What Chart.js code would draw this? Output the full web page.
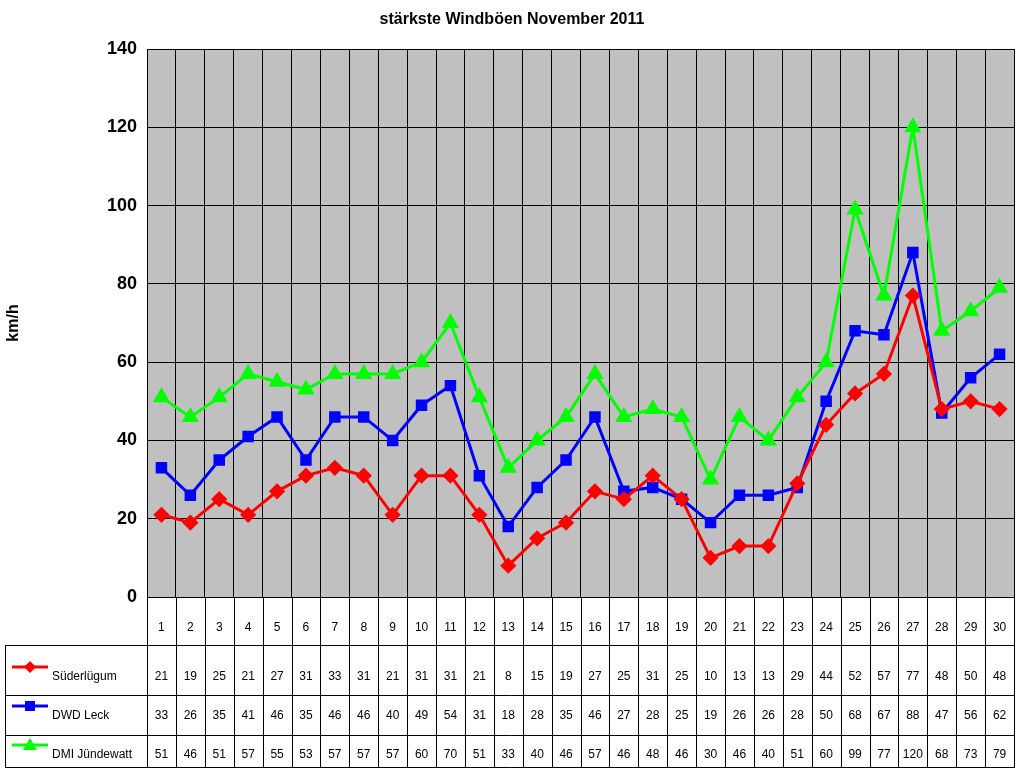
<!DOCTYPE html>
<html><head><meta charset="utf-8">
<script src="https://cdn.jsdelivr.net/npm/chart.js@4/dist/chart.umd.min.js"></script>
<style>body{margin:0;background:#fff}#wrap{width:1024px;height:768px}</style>
</head><body><div id="wrap"><canvas id="c"></canvas></div>
<script>
const days = Array.from({length: 30}, (_, i) => String(i + 1));
const suederluegum = [21,19,25,21,27,31,33,31,21,31,31,21,8,15,19,27,25,31,25,10,13,13,29,44,52,57,77,48,50,48];
const dwdLeck = [33,26,35,41,46,35,46,46,40,49,54,31,18,28,35,46,27,28,25,19,26,26,28,50,68,67,88,47,56,62];
const dmiJuendewatt = [51,46,51,57,55,53,57,57,57,60,70,51,33,40,46,57,46,48,46,30,46,40,51,60,99,77,120,68,73,79];
const yTicks = [0,20,40,60,80,100,120,140];

const FONT = '"Liberation Sans", Arial, sans-serif';
const series = [
  { label: 'Süderlügum', data: suederluegum, color: '#ff0000', style: 'rectRot', rowY: 677 },
  { label: 'DWD Leck', data: dwdLeck, color: '#0000ff', style: 'rect', rowY: 716 },
  { label: 'DMI Jündewatt', data: dmiJuendewatt, color: '#00ff00', style: 'triangle', rowY: 755 },
];

const tablePlugin = {
  id: 'table',
  beforeDraw(chart) {
    const { ctx, chartArea: a } = chart;
    ctx.save();
    ctx.fillStyle = '#c0c0c0';
    ctx.fillRect(a.left, a.top, a.right - a.left, a.bottom - a.top);
    ctx.restore();
  },
  afterDraw(chart) {
    const { ctx, chartArea: a } = chart;
    const x = chart.scales.x;
    const step = (a.right - a.left) / days.length;
    ctx.save();
    ctx.strokeStyle = '#000';
    ctx.lineWidth = 1;
    // table grid
    for (let i = 0; i <= days.length; i++) {
      const gx = Math.round(a.left + i * step) + 0.5;
      ctx.beginPath(); ctx.moveTo(gx, a.bottom); ctx.lineTo(gx, 768); ctx.stroke();
    }
    [645, 695, 735, 767].forEach(y => {
      ctx.beginPath(); ctx.moveTo(5, y + 0.5); ctx.lineTo(a.right, y + 0.5); ctx.stroke();
    });
    ctx.beginPath(); ctx.moveTo(5.5, 645); ctx.lineTo(5.5, 768); ctx.stroke();
    ctx.fillStyle = '#000';
    ctx.textAlign = 'center';
    ctx.textBaseline = 'middle';
    ctx.font = '12px ' + FONT;
    days.forEach((d, i) => ctx.fillText(d, x.getPixelForValue(i), 628));
    series.forEach(s => {
      ctx.textAlign = 'center';
      ctx.fillStyle = '#000';
      s.data.forEach((v, i) => ctx.fillText(String(v), x.getPixelForValue(i), s.rowY));
      // legend key
      const ly = s.rowY - 10;
      ctx.strokeStyle = s.color; ctx.lineWidth = 3;
      ctx.beginPath(); ctx.moveTo(12, ly); ctx.lineTo(48, ly); ctx.stroke();
      ctx.fillStyle = s.color;
      ctx.beginPath();
      if (s.style === 'rectRot') { ctx.moveTo(30, ly - 6); ctx.lineTo(36, ly); ctx.lineTo(30, ly + 6); ctx.lineTo(24, ly); }
      else if (s.style === 'rect') { ctx.rect(25, ly - 5, 10, 10); }
      else { ctx.moveTo(30, ly - 7); ctx.lineTo(37, ly + 5); ctx.lineTo(23, ly + 5); }
      ctx.closePath(); ctx.fill();
      ctx.fillStyle = '#000';
      ctx.textAlign = 'left';
      ctx.fillText(s.label, 52, s.rowY);
    });
    // title
    ctx.textAlign = 'center';
    ctx.font = 'bold 16px ' + FONT;
    ctx.fillText('stärkste Windböen November 2011', 512, 20);
    ctx.restore();
  }
};

new Chart(document.getElementById('c'), {
  type: 'line',
  plugins: [tablePlugin],
  data: {
    labels: days,
    datasets: series.map(s => ({
      label: s.label,
      data: s.data,
      borderColor: s.color,
      backgroundColor: s.color,
      borderWidth: 3,
      pointStyle: s.style,
      pointRadius: s.style === 'triangle' ? 7 : 6,
      pointHoverRadius: 6,
      tension: 0,
    }))
  },
  options: {
    responsive: true, maintainAspectRatio: false, animation: false,
    layout: { padding: { top: 49, right: 4, bottom: 171, left: 0 } },
    plugins: { legend: { display: false }, tooltip: { enabled: false } },
    scales: {
      x: {
        offset: true,
        ticks: { display: false },
        grid: { offset: true, color: '#000', drawTicks: false },
        border: { color: '#000' },
      },
      y: {
        min: 0, max: 140,
        afterBuildTicks: sc => { sc.ticks = yTicks.map(v => ({ value: v })); },
        afterFit: sc => { sc.width = 147; },
        ticks: { color: '#000', font: { family: FONT, size: 18, weight: 'bold' }, padding: 10 },
        grid: { color: '#000', drawTicks: false },
        border: { color: '#000' },
        title: { display: true, text: 'km/h', color: '#000', font: { family: FONT, size: 16, weight: 'bold' } },
      }
    }
  }
});
</script></body></html>
